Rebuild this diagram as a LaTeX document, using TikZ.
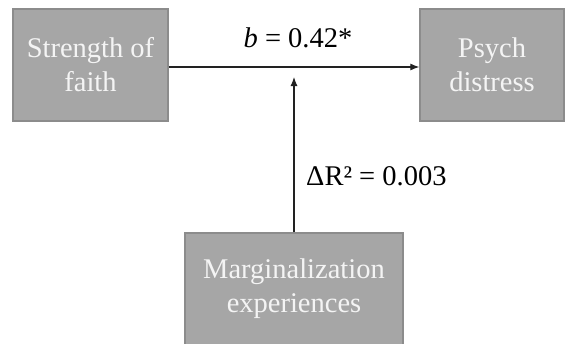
\documentclass[tikz,border=0pt]{standalone}
\usepackage{fontspec}
\setmainfont{Liberation Serif}
\usetikzlibrary{arrows.meta}
\definecolor{boxfill}{HTML}{A6A6A6}
\definecolor{boxline}{HTML}{8C8C8C}
\definecolor{boxtext}{HTML}{F4F4F4}
\definecolor{lineclr}{HTML}{222222}
\begin{document}
\begin{tikzpicture}[x=1pt,y=-1pt,
  box/.style={draw=boxline, fill=boxfill, line width=1.3pt, text=boxtext,
    align=center, inner sep=0pt,
    font=\fontsize{28.5}{34}\selectfont},
  arr/.style={draw=lineclr, line width=1.1pt, -{Latex[length=9pt,width=7pt]}},
  lbl/.style={inner sep=0pt, font=\fontsize{28.5}{34}\selectfont, text=black}]
\useasboundingbox (0,0) rectangle (565,343);
\node[box, minimum width=155pt, minimum height=112pt] (sf) at (90.5,65) {Strength of\\faith};
\node[box, minimum width=144pt, minimum height=112pt] (pd) at (492,65) {Psych\\distress};
\node[box, minimum width=218pt, minimum height=112pt] (me) at (294,289) {Marginalization\\experiences};
\coordinate (tip) at (294,77);
\draw[arr] ([yshift=-2pt]sf.east) -- ([yshift=-2pt]pd.west);
\draw[arr] (me.north) -- (tip);
\node[lbl, anchor=base] (b) at (298,47) {\textit{b} = 0.42*};
\node[lbl, anchor=base west] (dr) at (306,185) {ΔR² = 0.003};
\end{tikzpicture}
\end{document}
